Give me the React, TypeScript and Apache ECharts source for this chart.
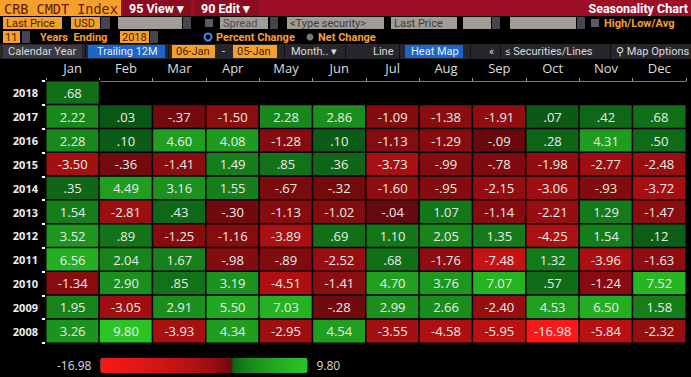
import React, { useEffect, useRef } from "react";
import * as echarts from "echarts";

const months = ["Jan", "Feb", "Mar", "Apr", "May", "Jun", "Jul", "Aug", "Sep", "Oct", "Nov", "Dec"];
const years = ["2018", "2017", "2016", "2015", "2014", "2013", "2012", "2011", "2010", "2009", "2008"];

const v2018 = [0.68];
const v2017 = [2.22, 0.03, -0.37, -1.5, 2.28, 2.86, -1.09, -1.38, -1.91, 0.07, 0.42, 0.68];
const v2016 = [2.28, 0.1, 4.6, 4.08, -1.28, 0.1, -1.13, -1.29, -0.09, 0.28, 4.31, 0.5];
const v2015 = [-3.5, -0.36, -1.41, 1.49, 0.85, 0.36, -3.73, -0.99, -0.78, -1.98, -2.77, -2.48];
const v2014 = [0.35, 4.49, 3.16, 1.55, -0.67, -0.32, -1.6, -0.95, -2.15, -3.06, -0.93, -3.72];
const v2013 = [1.54, -2.81, 0.43, -0.3, -1.13, -1.02, -0.04, 1.07, -1.14, -2.21, 1.29, -1.47];
const v2012 = [3.52, 0.89, -1.25, -1.16, -3.89, 0.69, 1.1, 2.05, 1.35, -4.25, 1.54, 0.12];
const v2011 = [6.56, 2.04, 1.67, -0.98, -0.89, -2.52, 0.68, -1.76, -7.48, 1.32, -3.96, -1.63];
const v2010 = [-1.34, 2.9, 0.85, 3.19, -4.51, -1.41, 4.7, 3.76, 7.07, 0.57, -1.24, 7.52];
const v2009 = [1.95, -3.05, 2.91, 5.5, 7.03, -0.28, 2.99, 2.66, -2.4, 4.53, 6.5, 1.58];
const v2008 = [3.26, 9.8, -3.93, 4.34, -2.95, 4.54, -3.55, -4.58, -5.95, -16.98, -5.84, -2.32];

const rows = [v2018, v2017, v2016, v2015, v2014, v2013, v2012, v2011, v2010, v2009, v2008];
const minVal = -16.98;
const maxVal = 9.8;

function fmt(v: number) {
  return v.toFixed(2).replace(/^(-?)0\./, "$1.");
}

function lerp(a: number[], b: number[], t: number) {
  const c = a.map((x, i) => Math.round(x + (b[i] - x) * t));
  return `rgb(${c[0]},${c[1]},${c[2]})`;
}

function colorFor(v: number) {
  if (v < 0) {
    const t = Math.sqrt(Math.min(1, -v / -minVal));
    return lerp([92, 8, 12], [250, 24, 24], t);
  }
  const s = Math.sqrt(Math.min(1, v / maxVal));
  return lerp([8, 80, 20], [42, 196, 36], s);
}

function buildStops() {
  const N = 1339;
  const out: string[] = [];
  for (let i = 0; i <= N; i++) {
    const v = minVal + ((maxVal - minVal) * i) / N;
    out.push(colorFor(Math.abs(v) < 1e-9 ? 0 : v));
  }
  return out;
}

const UI_FONT = "Roboto, 'Open Sans', sans-serif";
const CELL_FONT = "'Open Sans', Roboto, sans-serif";

function buildGraphics() {
  const G: any[] = [];
  const rect = (x: number, y: number, w: number, h: number, fill: string) =>
    G.push({ type: "rect", silent: true, shape: { x, y, width: w, height: h }, style: { fill } });
  const text = (x: number, y: number, s: string, fill: string, size = 11, weight = "normal", align = "left", family = UI_FONT) =>
    G.push({
      type: "text",
      silent: true,
      x,
      y,
      style: { text: s, fill, fontSize: size, fontWeight: weight, fontFamily: family, align, verticalAlign: "middle" },
    });
  const orange = "#f5a02c";
  const grey = "#a19c96";
  const dd = "#45454d";
  // row 1
  rect(0, 0, 691, 16, "#9c0f27");
  rect(0, 0, 121, 16, orange);
  text(4, 8.5, "CRB CMDT Index", "#6a1800", 13.5, "normal", "left", "'DejaVu Sans Mono', monospace");
  rect(123, 0, 68, 16, "#8a0c22");
  rect(195, 0, 64, 16, "#8a0c22");
  text(129, 8.5, "95 View ▾", "#ffffff", 12.5, "bold");
  text(201, 8.5, "90 Edit ▾", "#ffffff", 12.5, "bold");
  text(688, 8.5, "Seasonality Chart", "#ffffff", 12.5, "bold", "right");
  // row 2
  const r2 = 17, h2 = 12, c2 = 23.5;
  rect(3, r2, 59, h2, orange); text(6, c2, "Last Price", "#4a2200", 11);
  rect(71, r2, 29, h2, orange); text(74, c2, "USD", "#4a2200", 11);
  rect(101, r2, 9, h2, dd);
  rect(118, r2, 64, h2, grey); rect(183, r2, 8, h2, dd);
  rect(205, r2 + 2, 8, 8, "#5a5a60");
  rect(220, r2, 48, h2, grey); text(223, c2, "Spread", "#4a4a4a", 11);
  rect(270, r2, 8, h2, dd);
  rect(287, r2, 97, h2, grey); text(290, c2, "<Type security>", "#3a3a3a", 11);
  rect(391, r2, 66, h2, grey); text(394, c2, "Last Price", "#3a3a3a", 11);
  rect(463, r2, 28, h2, grey); rect(492, r2, 8, h2, dd);
  rect(510, r2, 66, h2, grey); rect(577, r2, 8, h2, dd);
  rect(591, r2 + 2, 8, 8, "#5a5a60");
  text(604, c2, "High/Low/Avg", orange, 11, "bold");
  // row 3
  const r3 = 31, c3 = 37;
  rect(3, r3, 17, 12, orange); text(5, c3, "11", "#4a2200", 11);
  rect(22, r3, 8, 12, dd);
  text(40, c3, "Years  Ending", orange, 11, "bold");
  rect(120, r3, 29, 12, orange); text(122, c3, "2018", "#4a2200", 11);
  rect(150, r3, 8, 12, dd);
  G.push({ type: "circle", silent: true, shape: { cx: 208, cy: c3, r: 3.5 }, style: { fill: "none", stroke: "#3d8ef0", lineWidth: 2 } });
  text(216, c3, "Percent Change", orange, 11, "bold");
  G.push({ type: "circle", silent: true, shape: { cx: 310, cy: c3, r: 3.5 }, style: { fill: "#777" } });
  text(318, c3, "Net Change", orange, 11, "bold");
  // row 4
  const r4 = 44, c4 = 51;
  rect(0, r4, 691, 15, "#26262c");
  rect(3, r4 + 1, 79, 13, "#3a3a42"); text(8, c4, "Calendar Year", "#dcdcdc", 11);
  rect(88, r4 + 1, 77, 13, "#1b66c8"); text(97, c4, "Trailing 12M", "#e6eeff", 11);
  rect(172, r4 + 1, 43, 13, orange); text(176, c4, "06-Jan", "#4a2200", 11);
  text(222, c4, "-", "#dddddd", 11);
  rect(233, r4 + 1, 44, 13, orange); text(237, c4, "05-Jan", "#4a2200", 11);
  text(291, c4, "Month.. ▾", "#dcdcdc", 11);
  text(373, c4, "Line", "#dcdcdc", 11);
  rect(405, r4 + 1, 58, 13, "#1b66c8"); text(411, c4, "Heat Map", "#e6eeff", 11);
  text(489, c4, "«", "#dcdcdc", 11);
  text(505, c4, "≤ Securities/Lines", "#dcdcdc", 11);
  text(616, c4, "⚲ Map Options", "#dcdcdc", 11);
  for (const sx of [85, 168, 284, 345, 399, 470, 500, 610]) rect(sx, r4, 1, 15, "#111114");
  return G;
}

export default function App() {
  const ref = useRef<HTMLDivElement>(null);
  useEffect(() => {
    document.body.style.margin = "0";
    document.body.style.background = "#000";
    if (!ref.current) return;
    const chart = echarts.init(ref.current, undefined, { renderer: "svg" });
    const data: any[] = [];
    rows.forEach((row, yi) => {
      row.forEach((v, xi) => data.push([xi, yi, v]));
    });
    chart.setOption({
      animation: false,
      backgroundColor: "#000000",
      grid: { left: 46, right: 5, top: 81, bottom: 34 },
      xAxis: {
        type: "category",
        position: "top",
        data: months,
        axisLine: { show: true, lineStyle: { color: "#777", width: 1 } },
        axisTick: { show: true, length: 3, lineStyle: { color: "#999" } },
        axisLabel: { color: "#dddddd", fontSize: 13, fontFamily: CELL_FONT, margin: 7 },
        splitLine: { show: false },
      },
      yAxis: {
        type: "category",
        data: years,
        inverse: true,
        axisLine: { show: false },
        axisTick: { show: true, length: 4, lineStyle: { color: "#ffffff", width: 2 } },
        axisLabel: { color: "#eeeeee", fontSize: 11, fontWeight: "bold", fontFamily: CELL_FONT, margin: 8 },
        splitLine: { show: false },
      },
      visualMap: {
        type: "continuous",
        min: minVal,
        max: maxVal,
        orient: "horizontal",
        calculable: false,
        left: 42,
        top: 343,
        itemWidth: 15,
        itemHeight: 207,
        text: [fmt(maxVal), fmt(minVal)],
        textGap: 9,
        textStyle: { color: "#dddddd", fontSize: 12, fontFamily: CELL_FONT },
        inRange: { color: buildStops() },
      },
      series: [
        {
          type: "heatmap",
          data,
          itemStyle: { borderColor: "#000000", borderWidth: 1.5 },
          label: {
            show: true,
            color: "#ececec",
            fontSize: 13,
            fontFamily: CELL_FONT,
            formatter: (p: any) => fmt(p.value[2]),
          },
          emphasis: { disabled: true },
        },
      ],
      graphic: buildGraphics(),
    });
    return () => chart.dispose();
  }, []);
  return <div ref={ref} style={{ width: 691, height: 377, background: "#000" }} />;
}
